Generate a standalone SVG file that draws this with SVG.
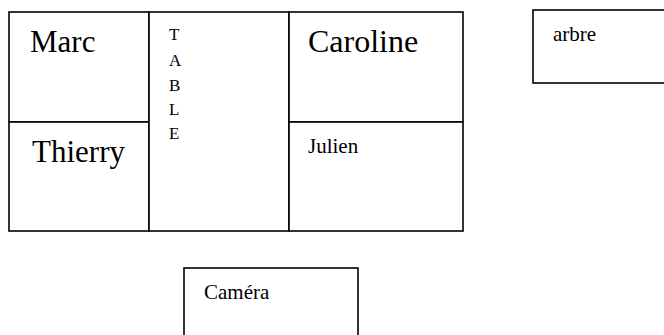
<svg xmlns="http://www.w3.org/2000/svg" width="664" height="335" viewBox="0 0 664 335">
<style>
.box{fill:#fff;stroke:#000;stroke-width:1.6}
text{font-family:'Liberation Serif','Times New Roman',serif;fill:#000}
.big{font-size:31px}
.car{font-size:32px}
.small{font-size:21px}
.tab{font-size:17px}
</style>
<rect width="664" height="335" fill="#fff"/>
<g id="marc"><rect class="box" x="9" y="12" width="140" height="110"/><text class="big" x="30" y="52">Marc</text></g>
<g id="thierry"><rect class="box" x="9" y="122" width="140" height="109"/><text class="big" x="32" y="162">Thierry</text></g>
<g id="table"><rect class="box" x="149" y="12" width="140" height="219"/>
<text class="tab" x="169" y="40">T</text>
<text class="tab" x="169" y="66">A</text>
<text class="tab" x="169" y="91">B</text>
<text class="tab" x="169" y="115">L</text>
<text class="tab" x="169" y="139">E</text></g>
<g id="caroline"><rect class="box" x="289" y="12" width="174" height="110"/><text class="car" x="308" y="52">Caroline</text></g>
<g id="julien"><rect class="box" x="289" y="122" width="174" height="109"/><text class="small" x="308" y="153">Julien</text></g>
<g id="arbre"><rect class="box" x="533" y="10" width="140" height="73"/><text class="small" x="553" y="41">arbre</text></g>
<g id="camera"><rect class="box" x="184" y="268" width="174" height="80"/><text class="small" x="204" y="299">Caméra</text></g>
<g id="connectors"/>
</svg>
